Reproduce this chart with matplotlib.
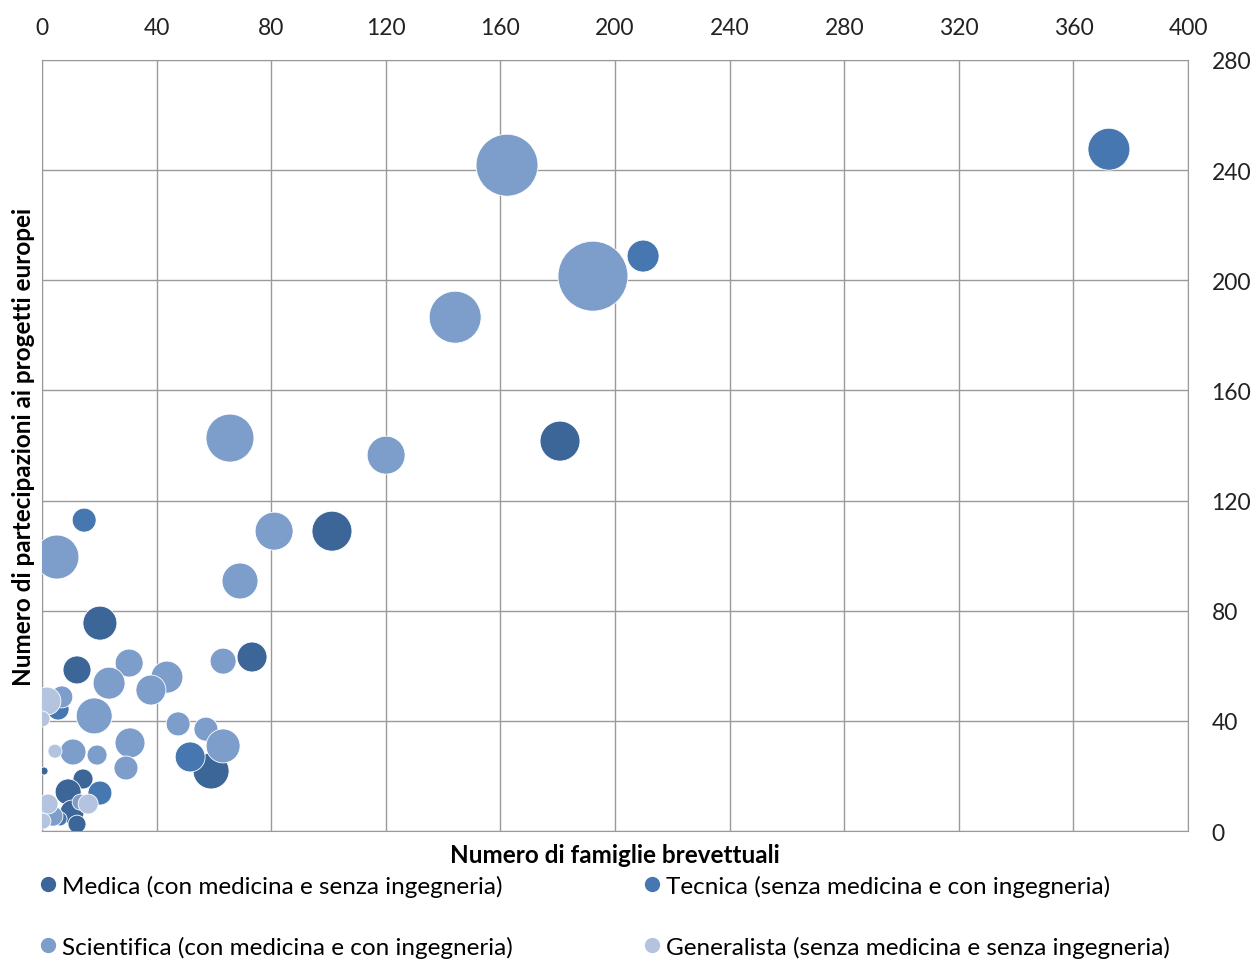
import matplotlib.pyplot as plt
from matplotlib.lines import Line2D

plt.rcParams['font.family'] = ['Lato', 'DejaVu Sans']

# Medica (con medicina e senza ingegneria)
med_x = [180.8, 101.2, 20.2, 73.3, 12.2, 59.0, 4.5, 14.3, 9.1, 10.5, 12.2, 0.7]
med_y = [141.6, 108.9, 75.5, 63.2, 58.5, 21.8, 46.0, 18.9, 14.2, 6.9, 2.5, 21.8]
med_s = [400, 400, 289, 225, 196, 324, 100, 100, 169, 144, 81, 16]

# Tecnica (senza medicina e con ingegneria)
tec_x = [372.4, 209.8, 14.7, 51.7, 20.2, 5.6, 6.3]
tec_y = [247.6, 208.8, 112.9, 26.9, 13.8, 44.3, 4.4]
tec_s = [441, 256, 144, 225, 144, 121, 49]

# Scientifica (con medicina e con ingegneria)
sci_x = [162.3, 192.3, 144.2, 65.6, 120.1, 81.0, 5.2, 69.1, 30.4, 63.2, 43.6,
         23.4, 38.0, 6.9, 18.2, 47.5, 57.2, 63.2, 30.7, 19.2, 10.8, 29.3, 13.3, 3.8]
sci_y = [241.8, 201.5, 186.6, 142.7, 136.5, 108.9, 99.5, 90.8, 61.0, 61.7, 55.9,
         53.7, 51.2, 48.7, 41.8, 38.9, 37.0, 30.9, 32.0, 27.6, 28.7, 22.9, 10.5, 5.4]
sci_s = [961, 1225, 676, 576, 361, 361, 484, 324, 196, 169, 256,
         256, 225, 121, 324, 144, 144, 289, 225, 100, 169, 144, 64, 100]

# Generalista (senza medicina e senza ingegneria)
gen_x = [1.7, 0.0, 4.5, 16.1, 2.1, 0.3]
gen_y = [47.2, 40.7, 29.0, 9.8, 9.8, 3.6]
gen_s = [196, 64, 49, 100, 100, 64]

labels = ['Medica (con medicina e senza ingegneria)',
          'Tecnica (senza medicina e con ingegneria)',
          'Scientifica (con medicina e con ingegneria)',
          'Generalista (senza medicina e senza ingegneria)']
colors = ['#3C6598', '#4677B0', '#7D9DCA', '#B4C4DF']

fig = plt.figure(figsize=(12.59, 9.62), dpi=100)
ax = fig.add_axes([0.0334, 0.1351, 0.9102, 0.8015])

series = [(med_x, med_y, med_s), (tec_x, tec_y, tec_s),
          (sci_x, sci_y, sci_s), (gen_x, gen_y, gen_s)]
k = 2.07  # px radius^2 -> pt^2 marker area
for i, (xs, ys, ss) in enumerate(series):
    ax.scatter(xs, ys, s=[k * v for v in ss], color=colors[i],
               edgecolors='white', linewidths=0.6, zorder=3 + i)

ax.set_xlim(0, 400)
ax.set_ylim(0, 280)
ax.set_xticks(range(0, 401, 40))
ax.set_yticks(range(0, 281, 40))
ax.xaxis.tick_top()
ax.yaxis.tick_right()
ax.tick_params(length=0, labelsize=16.5, colors='#222222')
ax.tick_params(axis='x', pad=16)
ax.tick_params(axis='y', pad=17)
ax.grid(True, color='#9a9a9a', linewidth=1)
ax.set_axisbelow(True)
for sp in ax.spines.values():
    sp.set_color('#9a9a9a')

fig.text(0.488, 0.111, 'Numero di famiglie brevettuali', ha='center', va='center',
         fontsize=17.5, fontweight='bold')
fig.text(0.019, 0.535, 'Numero di partecipazioni ai progetti europei', ha='center',
         va='center', rotation=90, fontsize=17.5, fontweight='bold')

# legend filled column-wise: reorder so rows read Medica/Tecnica, Scientifica/Generalista
order = [0, 2, 1, 3]
handles = [Line2D([], [], marker='o', linestyle='none', markersize=10,
                  markerfacecolor=colors[i], markeredgecolor=colors[i]) for i in order]
fig.legend(handles, [labels[i] for i in order], ncol=2, loc='upper left',
           bbox_to_anchor=(0.022, 0.1), frameon=False, fontsize=17.5,
           handletextpad=0.1, handlelength=0.9, columnspacing=5.3,
           labelspacing=1.6, borderaxespad=0)

fig.savefig('out.png', dpi=100)
